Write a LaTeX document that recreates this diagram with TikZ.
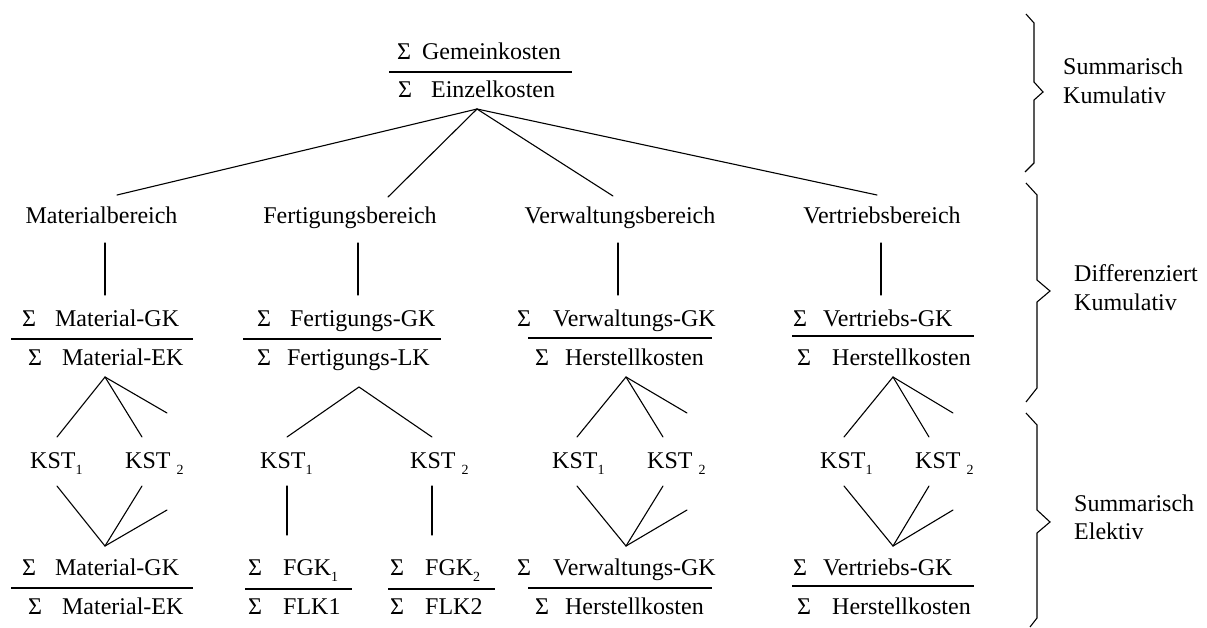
\documentclass[tikz,border=0pt]{standalone}
\usepackage{fontspec}
\setmainfont{Liberation Serif}
% lowered, smaller index digit
\newcommand\idx[1]{\raisebox{-6pt}{\fontsize{14}{14}\selectfont #1}}
\begin{document}
\begin{tikzpicture}[x=1pt,y=-1pt,
  txt/.style={anchor=base west, inner sep=0pt, font=\fontsize{24}{28}\selectfont},
  ctxt/.style={anchor=base, inner sep=0pt, font=\fontsize{24}{28}\selectfont},
  conn/.style={line width=1.1pt, line cap=round},
  fracrule/.style={line width=1.3pt},
  brace/.style={line width=1.1pt, line join=miter}]

\useasboundingbox (0,0) rectangle (1207,627);

% ---------- top ratio ----------
\node[txt] (gk) at (397,59) {Σ\hspace{11pt}Gemeinkosten};
\draw[fracrule] (389,72) -- (572,72);
\node[txt] (ek) at (398,97) {Σ\hspace{19pt}Einzelkosten};
\coordinate (top) at (477,109);

% ---------- areas ----------
\node[ctxt] (mat) at (101.5,223) {Materialbereich};
\node[ctxt] (fer) at (350,223) {Fertigungsbereich};
\node[ctxt] (ver) at (620,223) {Verwaltungsbereich};
\node[ctxt] (vtr) at (882,223) {Vertriebsbereich};

\coordinate (matT) at (117,195);
\coordinate (ferT) at (388,197);
\coordinate (verT) at (613,196);
\coordinate (vtrT) at (877,195);
\draw[conn] (top) -- (matT);
\draw[conn] (top) -- (ferT);
\draw[conn] (top) -- (verT);
\draw[conn] (top) -- (vtrT);

% ---------- area ratios ----------
\node[txt] (m1) at (22,326) {Σ\hspace{19pt}Material-GK};
\draw[fracrule] (11,339) -- (193,339);
\node[txt] (m2) at (28,365) {Σ\hspace{20pt}Material-EK};

\node[txt] (f1) at (257,326) {Σ\hspace{19pt}Fertigungs-GK};
\draw[fracrule] (243,339) -- (441,339);
\node[txt] (f2) at (257,365) {Σ\hspace{16pt}Fertigungs-LK};

\node[txt] (v1) at (517,326) {Σ\hspace{22pt}Verwaltungs-GK};
\draw[fracrule] (528,338) -- (712,338);
\node[txt] (v2) at (535,365) {Σ\hspace{16pt}Herstellkosten};

\node[txt] (t1) at (793,326) {Σ\hspace{16pt}Vertriebs-GK};
\draw[fracrule] (792,336) -- (974,336);
\node[txt] (t2) at (797,365) {Σ\hspace{21pt}Herstellkosten};

% vertical links area -> ratio
\coordinate (matA) at (105,243); \coordinate (matB) at (105,295);
\coordinate (ferA) at (358,243); \coordinate (ferB) at (358,295);
\coordinate (verA) at (618,243); \coordinate (verB) at (618,295);
\coordinate (vtrA) at (881,243); \coordinate (vtrB) at (881,295);
\draw[conn] (matA) -- (matB);
\draw[conn] (ferA) -- (ferB);
\draw[conn] (verA) -- (verB);
\draw[conn] (vtrA) -- (vtrB);

% ---------- cost centres ----------
\node[txt] (mk1) at (30,468) {KST\idx{1}};
\node[txt] (mk2) at (125,468) {KST\hspace{6pt}\idx{2}};
\node[txt] (fk1) at (260,468) {KST\idx{1}};
\node[txt] (fk2) at (410,468) {KST\hspace{6pt}\idx{2}};
\node[txt] (vk1) at (552,468) {KST\idx{1}};
\node[txt] (vk2) at (647,468) {KST\hspace{6pt}\idx{2}};
\node[txt] (tk1) at (820,468) {KST\idx{1}};
\node[txt] (tk2) at (915,468) {KST\hspace{6pt}\idx{2}};

% Material: fan out and back together
\coordinate (mU) at (105,377);
\coordinate (mk1T) at (57,437);  \coordinate (mk2T) at (142,437); \coordinate (mUs) at (167,413);
\coordinate (mk1B) at (57,486);  \coordinate (mk2B) at (142,486); \coordinate (mLs) at (167,510);
\coordinate (mL) at (105,546);
\draw[conn] (mk1T) -- (mU) -- (mk2T);
\draw[conn] (mU) -- (mUs);
\draw[conn] (mk1B) -- (mL) -- (mk2B);
\draw[conn] (mL) -- (mLs);

% Fertigung: two separate branches
\coordinate (fU) at (359,387);
\coordinate (fk1T) at (287,437); \coordinate (fk2T) at (432,437);
\coordinate (fk1B) at (287,486); \coordinate (fk2B) at (432,486);
\coordinate (fk1E) at (287,535); \coordinate (fk2E) at (432,535);
\draw[conn] (fk1T) -- (fU) -- (fk2T);
\draw[conn] (fk1B) -- (fk1E);
\draw[conn] (fk2B) -- (fk2E);

% Verwaltung
\coordinate (vU) at (626,377);
\coordinate (vk1T) at (577,437); \coordinate (vk2T) at (663,437); \coordinate (vUs) at (687,413);
\coordinate (vk1B) at (577,486); \coordinate (vk2B) at (663,486); \coordinate (vLs) at (687,510);
\coordinate (vL) at (626,546);
\draw[conn] (vk1T) -- (vU) -- (vk2T);
\draw[conn] (vU) -- (vUs);
\draw[conn] (vk1B) -- (vL) -- (vk2B);
\draw[conn] (vL) -- (vLs);

% Vertrieb
\coordinate (tU) at (893,377);
\coordinate (tk1T) at (844,437); \coordinate (tk2T) at (929,437); \coordinate (tUs) at (953,413);
\coordinate (tk1B) at (844,486); \coordinate (tk2B) at (929,486); \coordinate (tLs) at (953,510);
\coordinate (tL) at (893,546);
\draw[conn] (tk1T) -- (tU) -- (tk2T);
\draw[conn] (tU) -- (tUs);
\draw[conn] (tk1B) -- (tL) -- (tk2B);
\draw[conn] (tL) -- (tLs);

% ---------- bottom ratios ----------
\node[txt] (bm1) at (22,575) {Σ\hspace{19pt}Material-GK};
\draw[fracrule] (11,588) -- (193,588);
\node[txt] (bm2) at (28,614) {Σ\hspace{20pt}Material-EK};

\node[txt] (bf1) at (248,575) {Σ\hspace{21pt}FGK\idx{1}};
\draw[fracrule] (245,589) -- (352,589);
\node[txt] (bf2) at (248,614) {Σ\hspace{21pt}FLK1};

\node[txt] (bg1) at (390,575) {Σ\hspace{21pt}FGK\idx{2}};
\draw[fracrule] (388,589) -- (495,589);
\node[txt] (bg2) at (390,614) {Σ\hspace{21pt}FLK2};

\node[txt] (bv1) at (517,575) {Σ\hspace{22pt}Verwaltungs-GK};
\draw[fracrule] (528,588) -- (712,588);
\node[txt] (bv2) at (535,614) {Σ\hspace{16pt}Herstellkosten};

\node[txt] (bt1) at (793,575) {Σ\hspace{16pt}Vertriebs-GK};
\draw[fracrule] (792,586) -- (974,586);
\node[txt] (bt2) at (797,614) {Σ\hspace{21pt}Herstellkosten};

% ---------- braces and their labels ----------
\draw[brace] (1026,14) -- (1034,23) -- (1034,82) -- (1043,92) -- (1034,100) -- (1034,163) -- (1025,172);
\draw[brace] (1026,183) -- (1037,195) -- (1037,280) -- (1050,291) -- (1037,302) -- (1037,388) -- (1026,402);
\draw[brace] (1026,413) -- (1037,425) -- (1037,510) -- (1050,522) -- (1037,533) -- (1037,618) -- (1030,627);

\node[txt] (s1a) at (1063,74) {Summarisch};
\node[txt] (s1b) at (1063,103) {Kumulativ};
\node[txt] (s2a) at (1074,281) {Differenziert};
\node[txt] (s2b) at (1074,310) {Kumulativ};
\node[txt] (s3a) at (1074,511) {Summarisch};
\node[txt] (s3b) at (1074,539) {Elektiv};

\end{tikzpicture}
\end{document}
